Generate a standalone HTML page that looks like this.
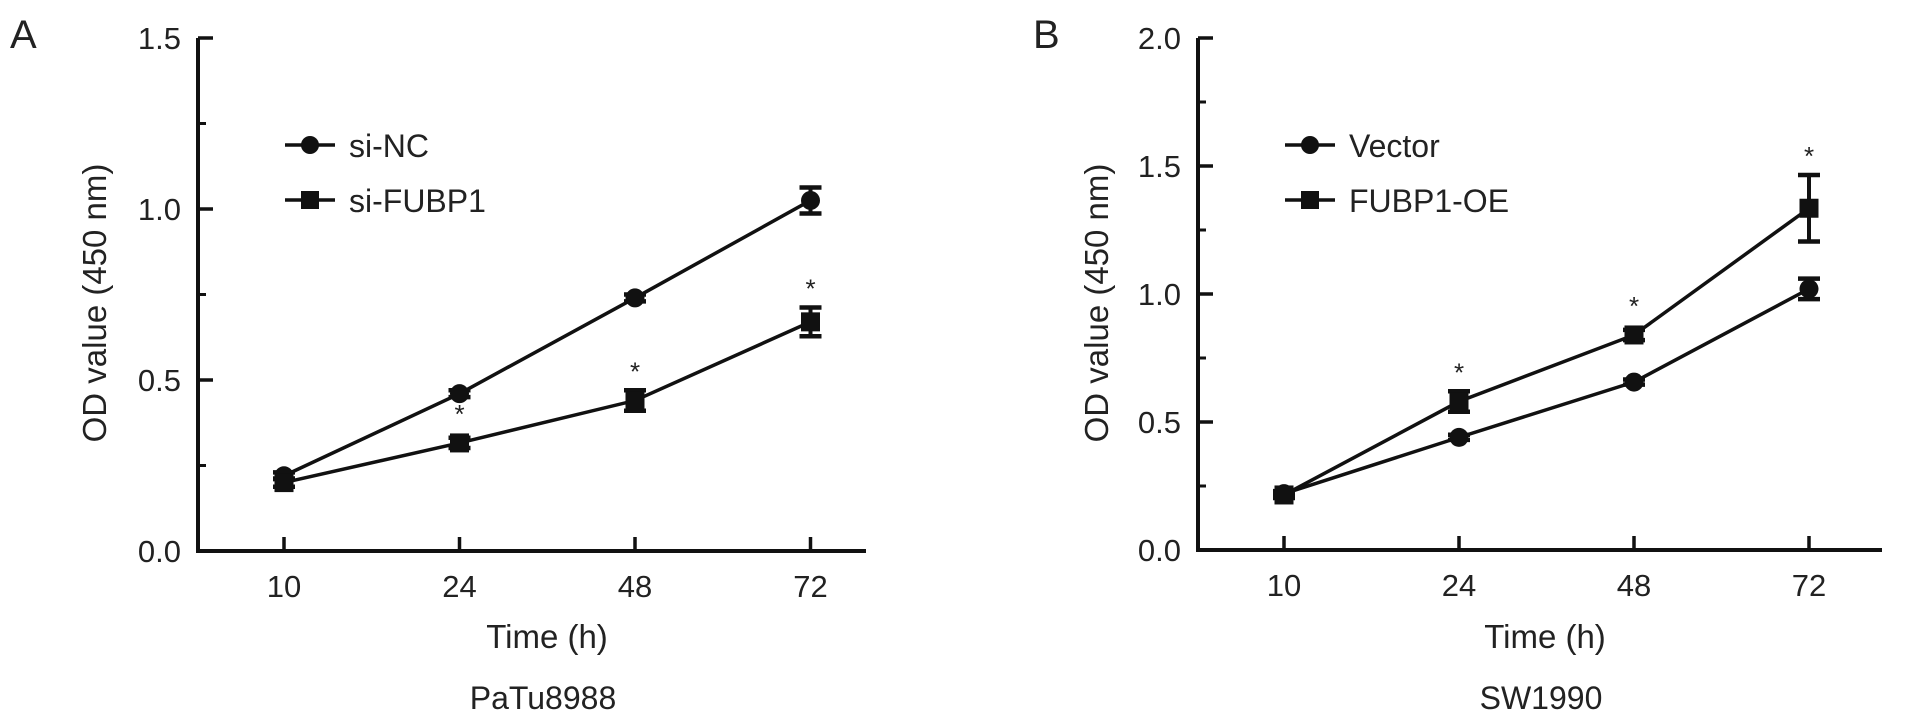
<!DOCTYPE html>
<html><head><meta charset="utf-8"><style>
html,body{margin:0;padding:0;background:#fff;}
svg{display:block;font-family:"Liberation Sans",Arial,sans-serif;}
</style></head><body>
<svg id="fig" width="1913" height="724" viewBox="0 0 1913 724"></svg>
<script>
const timeCategories = ["10","24","48","72"];
const aYTicks = [0,0.5,1.0,1.5];
const aYTickLabels = ["0.0","0.5","1.0","1.5"];
const aSiNC = [0.22,0.46,0.74,1.025];
const aSiNCErr = [0.01,0.01,0.01,0.038];
const aSiFUBP1 = [0.20,0.316,0.44,0.67];
const aSiFUBP1Err = [0.012,0.015,0.03,0.042];
const aStars = [false,true,true,true];
const bYTicks = [0,0.5,1.0,1.5,2.0];
const bYTickLabels = ["0.0","0.5","1.0","1.5","2.0"];
const bVector = [0.22,0.44,0.656,1.02];
const bVectorErr = [0.01,0.01,0.01,0.04];
const bOE = [0.215,0.58,0.84,1.335];
const bOEErr = [0.012,0.04,0.02,0.13];
const bStars = [false,true,true,true];

const NS="http://www.w3.org/2000/svg";
const svg=document.getElementById('fig');
function mk(tag,attrs,parent){const e=document.createElementNS(NS,tag);for(const k in attrs)e.setAttribute(k,attrs[k]);(parent||svg).appendChild(e);return e;}

function panel(cfg){
  const g=mk('g',{});
  
  
  const X=i=>cfg.x0+i*cfg.dx;
  const Y=v=>cfg.y0-v*cfg.ppu;
  const yTop=Y(cfg.ymax);
  const ya=mk('line',{x1:cfg.ax,y1:yTop,x2:cfg.ax,y2:cfg.y0+2,stroke:'#111','stroke-width':4},g);
  
  
  const xa=mk('line',{x1:cfg.ax-2,y1:cfg.y0,x2:cfg.axEnd,y2:cfg.y0,stroke:'#111','stroke-width':4},g);
  
  
  cfg.yTicks.forEach((t,i)=>{
    const y=Y(t);
    mk('line',{x1:cfg.ax,y1:y,x2:cfg.ax+15,y2:y,stroke:'#111','stroke-width':3.5},g);
    const tl=mk('text',{x:cfg.ax-17,y:y+11,'font-size':31,'text-anchor':'end',fill:'#222'},g);
    tl.textContent=cfg.yLabels[i];
    
    
    if(i<cfg.yTicks.length-1){
      const ym=Y((t+cfg.yTicks[i+1])/2);
      mk('line',{x1:cfg.ax,y1:ym,x2:cfg.ax+8,y2:ym,stroke:'#111','stroke-width':3},g);
    }
  });
  timeCategories.forEach((c,i)=>{
    mk('line',{x1:X(i),y1:cfg.y0,x2:X(i),y2:cfg.y0-14,stroke:'#111','stroke-width':3.5},g);
    const tl=mk('text',{x:X(i),y:cfg.y0+46,'font-size':31,'text-anchor':'middle',fill:'#222'},g);
    tl.textContent=c;
    
    
  });
  const xt=mk('text',{x:cfg.titleX,y:648,'font-size':33,'text-anchor':'middle',fill:'#222'},g);
  xt.textContent='Time (h)';
  
  
  const ct=mk('text',{x:cfg.titleX-4,y:709,'font-size':32,'text-anchor':'middle',fill:'#222'},g);
  ct.textContent=cfg.cell;
  
  
  const yt=mk('text',{x:0,y:0,'font-size':33,'text-anchor':'middle',fill:'#222',transform:`translate(${cfg.ytX},303) rotate(-90)`},g);
  yt.textContent='OD value (450 nm)';
  
  
  const pl=mk('text',{x:cfg.letterX,y:48,'font-size':40,fill:'#222'},g);
  pl.textContent=cfg.letter;
  
  

  function series(vals,errs,shape,sname){
    const sg=mk('g',{},g);
    
    
    const pts=vals.map((v,i)=>X(i)+','+Y(v)).join(' ');
    mk('polyline',{points:pts,fill:'none',stroke:'#111','stroke-width':3.5},sg);
    vals.forEach((v,i)=>{
      const x=X(i),yl=Y(v-errs[i]),yh=Y(v+errs[i]);
      mk('line',{x1:x,y1:yl,x2:x,y2:yh,stroke:'#111','stroke-width':4},sg);
      mk('line',{x1:x-11,y1:yl,x2:x+11,y2:yl,stroke:'#111','stroke-width':4.5},sg);
      mk('line',{x1:x-11,y1:yh,x2:x+11,y2:yh,stroke:'#111','stroke-width':4.5},sg);
      let m;
      if(shape==='c') m=mk('circle',{cx:x,cy:Y(v),r:9.5,fill:'#111'},sg);
      else m=mk('rect',{x:x-9.5,y:Y(v)-9.5,width:19,height:19,fill:'#111'},sg);
      
      
    });
  }
  series(cfg.s1,cfg.s1e,'c',cfg.s1name);
  series(cfg.s2,cfg.s2e,'s',cfg.s2name);
  cfg.stars.forEach((s,i)=>{
    if(!s)return;
    const top=Math.min(Y(cfg.sig[i]+cfg.sigE[i]),Y(cfg.sig[i])-10);
    const st=mk('text',{x:X(i),y:top-10,'font-size':26,'text-anchor':'middle',fill:'#222'},g);
    st.textContent='*';
    
    
  });
  [[cfg.s1label,'c',145],[cfg.s2label,'s',200]].forEach(([lab,shape,y])=>{
    const lg=mk('g',{},g);
    
    
    const lx=cfg.legX;
    mk('line',{x1:lx,y1:y,x2:lx+50,y2:y,stroke:'#111','stroke-width':3.5},lg);
    if(shape==='c') mk('circle',{cx:lx+25,cy:y,r:9,fill:'#111'},lg);
    else mk('rect',{x:lx+16,y:y-9,width:18,height:18,fill:'#111'},lg);
    const t=mk('text',{x:lx+64,y:y+12,'font-size':32,fill:'#222'},lg);
    t.textContent=lab;
  });
}

panel({name:'panel-a-patu8988',x0:284,dx:175.5,y0:551,ppu:342,ymax:1.5,ax:198,axEnd:866,
  yTicks:aYTicks,yLabels:aYTickLabels,titleX:547,cell:'PaTu8988',ytX:106,letter:'A',letterX:10,
  s1:aSiNC,s1e:aSiNCErr,s2:aSiFUBP1,s2e:aSiFUBP1Err,s1name:'series-si-nc',s2name:'series-si-fubp1',
  stars:aStars,sig:aSiFUBP1,sigE:aSiFUBP1Err,s1label:'si-NC',s2label:'si-FUBP1',legX:285});
panel({name:'panel-b-sw1990',x0:1284,dx:175,y0:550,ppu:256,ymax:2.0,ax:1198,axEnd:1882,
  yTicks:bYTicks,yLabels:bYTickLabels,titleX:1545,cell:'SW1990',ytX:1108,letter:'B',letterX:1033,
  s1:bVector,s1e:bVectorErr,s2:bOE,s2e:bOEErr,s1name:'series-vector',s2name:'series-fubp1-oe',
  stars:bStars,sig:bOE,sigE:bOEErr,s1label:'Vector',s2label:'FUBP1-OE',legX:1285});
</script>
</body></html>
